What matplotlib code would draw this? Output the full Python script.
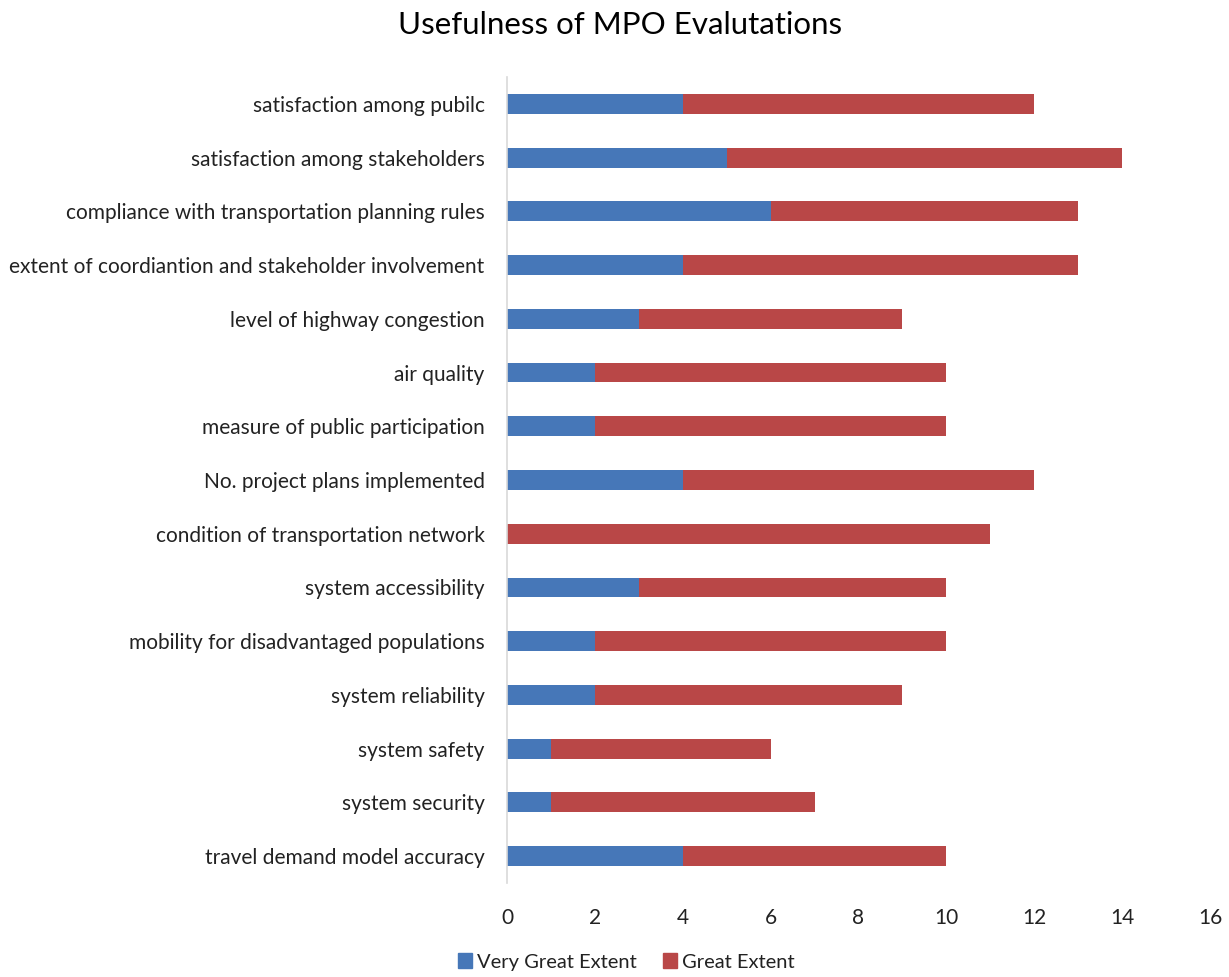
import matplotlib
matplotlib.use("Agg")
import matplotlib.pyplot as plt
from matplotlib.patches import Patch

plt.rcParams['font.family'] = ['Lato', 'DejaVu Sans']

categories = [
    "satisfaction among pubilc",
    "satisfaction among stakeholders",
    "compliance with transportation planning rules",
    "extent of coordiantion and stakeholder involvement",
    "level of highway congestion",
    "air quality",
    "measure of public participation",
    "No. project plans implemented",
    "condition of transportation network",
    "system accessibility",
    "mobility for disadvantaged populations",
    "system reliability",
    "system safety",
    "system security",
    "travel demand model accuracy",
]
very_great = [4, 5, 6, 4, 3, 2, 2, 4, 0, 3, 2, 2, 1, 1, 4]
great = [8, 9, 7, 9, 6, 8, 8, 8, 11, 7, 8, 7, 5, 6, 6]
series_names = ["Very Great Extent", "Great Extent"]
x_ticks = [0, 2, 4, 6, 8, 10, 12, 14, 16]

blue = "#4677B8"
red = "#B94747"

fig = plt.figure(figsize=(12.29, 9.77), dpi=100)
ax = fig.add_axes([0.4125, 0.0962, 0.572, 0.825])

y = list(range(len(categories)))
h = 0.37
ax.barh(y, very_great, height=h, color=blue, label=series_names[0])
ax.barh(y, great, left=very_great, height=h, color=red, label=series_names[1])

ax.set_ylim(len(categories) - 0.5, -0.5)
ax.set_xlim(0, 16)
ax.set_xticks(x_ticks)
ax.set_xticklabels([str(t) for t in x_ticks])
ax.set_yticks(y)
ax.set_yticklabels(categories)

ax.tick_params(axis='x', length=0, pad=18, labelsize=15, colors='#222222')
ax.tick_params(axis='y', length=0, pad=16, labelsize=15, colors='#222222')

for s in ['top', 'right', 'bottom']:
    ax.spines[s].set_visible(False)
ax.spines['left'].set_color('#D9D9D9')
ax.spines['left'].set_linewidth(1.2)

fig.text(620 / 1229, 1 - 25 / 977, "Usefulness of MPO Evalutations",
         ha='center', va='center', fontsize=22.5, color='black')

handles = [Patch(color=blue, label=series_names[0]),
           Patch(color=red, label=series_names[1])]
fig.legend(handles=handles, loc='center', bbox_to_anchor=(626 / 1229, 1 - 962 / 977),
           ncol=2, frameon=False, fontsize=14.5, handlelength=0.7, handleheight=0.7,
           handletextpad=0.25, columnspacing=1.3, labelcolor='#222222')

fig.savefig("out.png", dpi=100)
